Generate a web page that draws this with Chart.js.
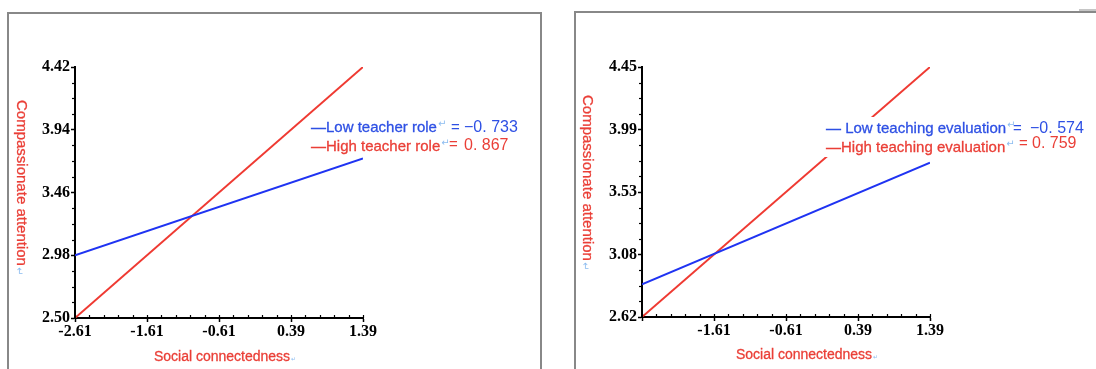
<!DOCTYPE html>
<html>
<head>
<meta charset="utf-8">
<script src="https://cdn.jsdelivr.net/npm/chart.js@4.4.1/dist/chart.umd.min.js"></script>
<style>
  html, body { margin: 0; padding: 0; background: #fff; width: 1096px; height: 369px; overflow: hidden; }
  body { position: relative; }
  .frame { position: absolute; border: 2px solid #888; box-sizing: border-box; background: #fff; }
  #frameL { left: 7px; top: 12px; width: 535px; height: 420px; }
  #frameR { left: 574px; top: 11px; width: 560px; height: 420px; }
  #stub { position: absolute; left: 1079px; top: 9px; width: 17px; height: 2px; background: #c6c6c6; }
  .wrap { position: absolute; top: 0; height: 369px; }
  #wrapL { left: 0; width: 540px; }
  #wrapR { left: 540px; width: 556px; }
</style>
</head>
<body>
<div class="frame" id="frameL"></div>
<div class="frame" id="frameR"></div>
<div id="stub"></div>
<div class="wrap" id="wrapL"><canvas id="roleChart" width="540" height="369"></canvas></div>
<div class="wrap" id="wrapR"><canvas id="evalChart" width="556" height="369"></canvas></div>
<script>
// Simple slopes of social connectedness at -1 SD and +1 SD of the moderator
const xEnds = [-2.61, 1.39];
const xTickValues = [-2.61, -1.61, -0.61, 0.39, 1.39];
const roleXTickLabels = ['-2.61', '-1.61', '-0.61', '0.39', '1.39'];
const evalXTickLabels = ['', '-1.61', '-0.61', '0.39', '1.39'];

// Moderator: teacher role
const roleLow = [2.98, 3.72];
const roleHigh = [2.50, 4.42];
const roleYTickLabels = ['2.50', '2.98', '3.46', '3.94', '4.42'];

// Moderator: teaching evaluation
const evalLow = [2.86, 3.75];
const evalHigh = [2.62, 4.45];
const evalYTickLabels = ['2.62', '3.08', '3.53', '3.99', '4.45'];

const LINE_BLUE = '#1f33f2';
const LINE_RED = '#ef3a32';
const TEXT_BLUE = '#2e50e4';
const TEXT_RED = '#ea3f37';
const MARK_BLUE = '#8cbcf0';
const SANS = '"Liberation Sans", Arial, sans-serif';

// draws text with a hairline outline so it reads a little heavier
function heavyText(ctx, t, x, y, color) {
  ctx.fillStyle = color;
  ctx.strokeStyle = color;
  ctx.lineWidth = 0.3;
  ctx.fillText(t, x, y);
  ctx.strokeText(t, x, y);
}

// Axis titles, minor ticks and the slope legend
const panelText = {
  id: 'panelText',
  afterDatasetsDraw(chart, args, opts) {
    const ctx = chart.ctx;
    const xs = chart.scales.x, ys = chart.scales.y;
    const area = chart.chartArea;
    ctx.save();

    // minor ticks
    ctx.strokeStyle = '#000';
    ctx.lineWidth = 1.2;
    for (let k = 0; k <= 20; k++) {
      const px = Math.round(xs.getPixelForValue(xTickValues[0] + k * 0.2)) + 0.5;
      ctx.beginPath(); ctx.moveTo(px, area.bottom); ctx.lineTo(px, area.bottom - 3); ctx.stroke();
    }
    const yt = ys.ticks;
    for (let i = 0; i < yt.length - 1; i++) {
      for (let m = 1; m < 4; m++) {
        const v = yt[i].value + (yt[i + 1].value - yt[i].value) * m / 4;
        const py = Math.round(ys.getPixelForValue(v)) + 0.5;
        ctx.beginPath(); ctx.moveTo(area.left, py); ctx.lineTo(area.left - 3, py); ctx.stroke();
      }
    }

    // white box behind the legend
    if (opts.mask) {
      ctx.fillStyle = '#fff';
      ctx.fillRect(opts.mask[0], opts.mask[1], opts.mask[2], opts.mask[3]);
    }

    // legend rows
    ctx.textBaseline = 'middle';
    ctx.textAlign = 'left';
    opts.rows.forEach(r => {
      ctx.font = '15px ' + SANS;
      heavyText(ctx, r.name, r.x, r.y, r.color);
      const w = ctx.measureText(r.name).width;
      ctx.fillStyle = MARK_BLUE;
      ctx.font = '10px "DejaVu Sans"';
      ctx.fillText('↵', r.x + w + 1, r.y - 4);
      ctx.fillStyle = r.color;
      ctx.font = '15px ' + SANS;
      ctx.fillText('=', r.eqX, r.y + (r.eqDy || 0));
      ctx.font = '16px ' + SANS;
      ctx.fillText(r.value, r.valX, r.y + (r.valDy || 0));
    });

    // x title
    ctx.font = '14px ' + SANS;
    ctx.textAlign = 'center';
    heavyText(ctx, opts.xTitle, opts.xTitleX, opts.xTitleY, TEXT_RED);
    const xw = ctx.measureText(opts.xTitle).width;
    ctx.fillStyle = MARK_BLUE;
    ctx.font = '6px "DejaVu Sans"';
    ctx.textAlign = 'left';
    ctx.fillText('↵', opts.xTitleX + xw / 2 + 1, opts.xTitleY + 2);

    // y title, reading downward
    ctx.translate(opts.yTitleX, opts.yTitleY);
    ctx.rotate(Math.PI / 2);
    ctx.font = '15px ' + SANS;
    ctx.textAlign = 'left';
    heavyText(ctx, opts.yTitle, 0, 0, TEXT_RED);
    const yw = ctx.measureText(opts.yTitle).width;
    ctx.fillStyle = MARK_BLUE;
    ctx.font = '10px "DejaVu Sans"';
    ctx.fillText('↵', yw + 1, 2);
    ctx.restore();
  }
};

function makeChart(id, cfg) {
  const yMin = parseFloat(cfg.yLabels[0]);
  const yMax = parseFloat(cfg.yLabels[cfg.yLabels.length - 1]);
  const nY = cfg.yLabels.length - 1;
  const tickFont = { family: '"Liberation Serif", "Times New Roman", serif', weight: 'bold', size: 16 };
  return new Chart(document.getElementById(id), {
    type: 'line',
    data: {
      datasets: [
        { label: cfg.lowName, data: xEnds.map((x, i) => ({ x, y: cfg.low[i] })), borderColor: LINE_BLUE, borderWidth: 2, pointRadius: 0, tension: 0 },
        { label: cfg.highName, data: xEnds.map((x, i) => ({ x, y: cfg.high[i] })), borderColor: LINE_RED, borderWidth: 2, pointRadius: 0, tension: 0 }
      ]
    },
    options: {
      responsive: false,
      animation: false,
      layout: { padding: cfg.padding },
      plugins: { legend: { display: false }, tooltip: { enabled: false }, panelText: cfg.text },
      scales: {
        x: {
          type: 'linear', min: xEnds[0], max: xEnds[1],
          afterBuildTicks: s => { s.ticks = xTickValues.map(v => ({ value: v })); },
          afterFit: s => { s.height = 22; },
          ticks: { callback: (v, i) => cfg.xLabels[i], font: tickFont, color: '#000', padding: 0, maxRotation: 0, autoSkip: false },
          grid: { drawOnChartArea: false, tickLength: 4, color: '#000', tickWidth: 1.5 },
          border: { color: '#000', width: 2 }
        },
        y: {
          type: 'linear', min: yMin, max: yMax,
          afterBuildTicks: s => { s.ticks = cfg.yLabels.map((l, i) => ({ value: yMin + (yMax - yMin) * i / nY })); },
          afterFit: s => { s.width = 40; },
          ticks: { callback: (v, i) => cfg.yLabels[i], font: tickFont, color: '#000', padding: 1, autoSkip: false },
          grid: { drawOnChartArea: false, tickLength: 4, color: '#000', tickWidth: 1.5 },
          border: { color: '#000', width: 2 }
        }
      }
    },
    plugins: [panelText]
  });
}

makeChart('roleChart', {
  low: roleLow, high: roleHigh, yLabels: roleYTickLabels, xLabels: roleXTickLabels,
  lowName: 'Low teacher role', highName: 'High teacher role',
  padding: { left: 35, right: 177, top: 67, bottom: 29 },
  text: {
    xTitle: 'Social connectedness', xTitleX: 222, xTitleY: 357,
    yTitle: 'Compassionate attention', yTitleX: 21, yTitleY: 100,
    rows: [
      { name: '—Low teacher role', color: TEXT_BLUE, x: 311, y: 128, eqX: 451, valX: 464, value: '−0. 733' },
      { name: '—High teacher role', color: TEXT_RED, x: 311, y: 147, eqX: 449, eqDy: -2, valX: 464, valDy: -1, value: '0. 867' }
    ]
  }
});

makeChart('evalChart', {
  low: evalLow, high: evalHigh, yLabels: evalYTickLabels, xLabels: evalXTickLabels,
  lowName: 'Low teaching evaluation', highName: 'High teaching evaluation',
  padding: { left: 62, right: 166, top: 67, bottom: 30 },
  text: {
    xTitle: 'Social connectedness', xTitleX: 264, xTitleY: 355,
    yTitle: 'Compassionate attention', yTitleX: 47, yTitleY: 95,
    mask: [284, 117, 265, 40],
    rows: [
      { name: '— Low teaching evaluation', color: TEXT_BLUE, x: 286, y: 129, eqX: 473, valX: 490, value: '−0. 574' },
      { name: '—High teaching evaluation', color: TEXT_RED, x: 286, y: 148, eqX: 479, eqDy: -4, valX: 492, valDy: -4, value: '0. 759' }
    ]
  }
});
</script>
</body>
</html>
